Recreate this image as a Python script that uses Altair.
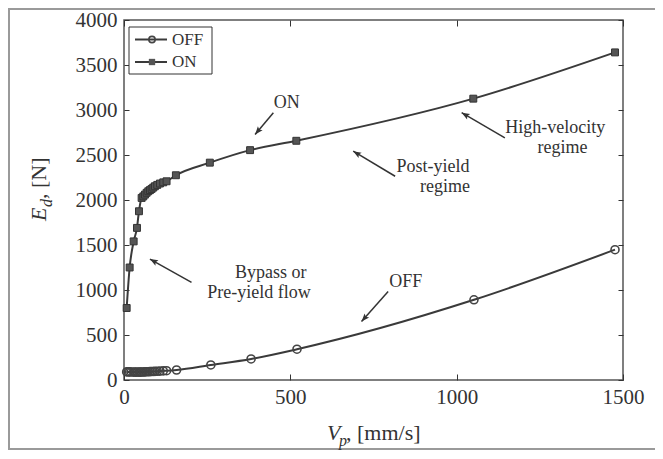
import math
import altair as alt
import pandas as pd

# ---------------- data ----------------
vp_on = [8, 17, 29, 39, 45, 53, 58, 63, 68, 73, 78, 83, 88, 93, 100, 108, 118, 128, 156, 258, 379, 518, 1050, 1476]
ed_on = [800, 1250, 1540, 1690, 1875, 2023, 2040, 2060, 2080, 2097, 2110, 2123, 2138, 2153, 2168, 2183, 2196, 2208,
         2275, 2415, 2554, 2658, 3126, 3640]

vp_off = [8, 13, 17, 22, 29, 34, 39, 45, 49, 53, 58, 63, 68, 73, 78, 83, 88, 93, 100, 108, 118, 128,
          158, 261, 382, 520, 1052, 1476]
ed_off = [90, 90, 90, 89, 88, 88, 88, 88, 88, 89, 89, 90, 91, 92, 93, 94, 95, 96, 97, 99, 101, 103,
          111, 167, 234, 342, 891, 1448]

x_ticks = [0, 500, 1000, 1500]
y_ticks = [0, 500, 1000, 1500, 2000, 2500, 3000, 3500, 4000]

# annotations (data coordinates)
note_text = ["ON", "Post-yield", "regime", "High-velocity", "regime", "Bypass or", "Pre-yield flow", "OFF"]
note_x = [489, 929, 965, 1296, 1318, 441, 406, 847]
note_y = [3081, 2370, 2148, 2797, 2574, 1185, 963, 1092]

arrow_tail_x = [449, 815, 1145, 203, 794]
arrow_tail_y = [2970, 2264, 2691, 1084, 983]
arrow_tip_x = [394, 689, 1015, 78, 714]
arrow_tip_y = [2728, 2542, 2970, 1344, 649]

W, H = 499, 360
XMAX, YMAX = 1500, 4000
FONT = "Liberation Serif"
INK = "#333333"

on_df = pd.DataFrame({"vp": vp_on, "ed": ed_on})
off_df = pd.DataFrame({"vp": vp_off, "ed": ed_off})
notes_df = pd.DataFrame({"t": note_text, "x": note_x, "y": note_y})


def angle_of(tx, ty, hx, hy):
    dx = (hx - tx) * W / XMAX
    dy = -(hy - ty) * H / YMAX
    return math.degrees(math.atan2(dx, -dy)) % 360


arrows_df = pd.DataFrame({
    "x": arrow_tail_x, "y": arrow_tail_y, "x2": arrow_tip_x, "y2": arrow_tip_y,
    "ang": [angle_of(a, b, c, d) for a, b, c, d in zip(arrow_tail_x, arrow_tail_y, arrow_tip_x, arrow_tip_y)],
})

xs = alt.Scale(domain=[0, XMAX], nice=False, zero=False)
ys = alt.Scale(domain=[0, YMAX], nice=False, zero=False)


def X(f, axis=None):
    return alt.X(f, type="quantitative", scale=xs, axis=axis, title=None)


def Y(f, axis=None):
    return alt.Y(f, type="quantitative", scale=ys, axis=axis, title=None)


ax_bottom = alt.Axis(orient="bottom", values=x_ticks, tickSize=6, offset=-6, domain=False, grid=False,
                     tickColor=INK, labelFont=FONT, labelFontSize=21, labelColor=INK, labelPadding=6,
                     format="d", labelFlush=False)
ax_left = alt.Axis(orient="left", values=y_ticks, tickSize=5, offset=-5, domain=False, grid=False,
                   tickColor=INK, labelFont=FONT, labelFontSize=21, labelColor=INK, labelPadding=7,
                   format="d")
ax_top = alt.Axis(orient="top", values=x_ticks, tickSize=6, offset=-6, domain=False, grid=False,
                  tickColor=INK, labels=False)
ax_right = alt.Axis(orient="right", values=y_ticks, tickSize=5, offset=-5, domain=False, grid=False,
                    tickColor=INK, labels=False)

# ON
on_line = alt.Chart(on_df).mark_line(color="#3a3a3a", strokeWidth=2, interpolate="monotone").encode(
    x=X("vp", ax_bottom), y=Y("ed", ax_left))
on_pts = alt.Chart(on_df).mark_point(shape="square", filled=True, size=48, color="#555555",
                                      stroke="#333333", strokeWidth=1, opacity=1).encode(
    x=X("vp", ax_top), y=Y("ed", ax_right))
# OFF
off_line = alt.Chart(off_df).mark_line(color="#3a3a3a", strokeWidth=2, interpolate="monotone").encode(
    x=X("vp"), y=Y("ed"))
off_pts = alt.Chart(off_df).mark_point(shape="circle", filled=False, size=64, color="#444444",
                                       strokeWidth=1.6, opacity=1).encode(
    x=X("vp"), y=Y("ed"))

# annotations
notes = alt.Chart(notes_df).mark_text(font=FONT, fontSize=18, color=INK, align="center",
                                      baseline="middle").encode(x=X("x"), y=Y("y"), text="t:N")
shafts = alt.Chart(arrows_df).mark_rule(color=INK, strokeWidth=1.5).encode(
    x=X("x"), y=Y("y"), x2="x2", y2="y2")
heads = alt.Chart(arrows_df).mark_point(shape="M0,0L0.38,1L0,0.8L-0.38,1Z", filled=True, size=260,
                                        color=INK, opacity=1).encode(
    x=X("x2"), y=Y("y2"), angle=alt.Angle("ang:Q", scale=None))

# legend (pixel positions within the plot area)
leg_box = alt.Chart(pd.DataFrame({"a": [0]})).mark_rect(fill="white", stroke=INK, strokeWidth=1).encode(
    x=alt.value(5), x2=alt.value(88), y=alt.value(7), y2=alt.value(54))
leg_df = pd.DataFrame({"t": ["OFF", "ON"], "yy": [19.5, 42]})
leg_lines = alt.Chart(leg_df).mark_rule(color="#3a3a3a", strokeWidth=2).encode(
    x=alt.value(11), x2=alt.value(43), y=alt.Y("yy:Q", scale=None, axis=None))
leg_off = alt.Chart(leg_df.iloc[[0]]).mark_point(shape="circle", filled=False, size=40, color="#444444",
                                                 strokeWidth=1.6, opacity=1).encode(
    x=alt.value(28), y=alt.Y("yy:Q", scale=None, axis=None))
leg_on = alt.Chart(leg_df.iloc[[1]]).mark_point(shape="square", filled=True, size=40, color="#555555",
                                                opacity=1).encode(
    x=alt.value(28), y=alt.Y("yy:Q", scale=None, axis=None))
leg_text = alt.Chart(leg_df).mark_text(font=FONT, fontSize=17, color=INK, align="left",
                                       baseline="middle").encode(
    x=alt.value(48), y=alt.Y("yy:Q", scale=None, axis=None), text="t:N")

# axis titles (composed so that the subscripts can be drawn)
one = pd.DataFrame({"a": [0]})
xt_V = alt.Chart(one).mark_text(text="V", font=FONT, fontStyle="italic", fontSize=22, color=INK,
                                align="left", baseline="alphabetic").encode(x=alt.value(203), y=alt.value(420))
xt_p = alt.Chart(one).mark_text(text="p", font=FONT, fontStyle="italic", fontSize=16, color=INK,
                                align="left", baseline="alphabetic").encode(x=alt.value(215), y=alt.value(426))
xt_r = alt.Chart(one).mark_text(text=", [mm/s]", font=FONT, fontSize=22, color=INK,
                                align="left", baseline="alphabetic").encode(x=alt.value(222), y=alt.value(420))
yt_E = alt.Chart(one).mark_text(text="E", font=FONT, fontStyle="italic", fontSize=22, color=INK, angle=270,
                                align="left", baseline="alphabetic").encode(x=alt.value(-78), y=alt.value(201))
yt_d = alt.Chart(one).mark_text(text="d", font=FONT, fontStyle="italic", fontSize=16, color=INK, angle=270,
                                align="left", baseline="alphabetic").encode(x=alt.value(-72), y=alt.value(187))
yt_r = alt.Chart(one).mark_text(text=", [N]", font=FONT, fontSize=22, color=INK, angle=270,
                                align="left", baseline="alphabetic").encode(x=alt.value(-78), y=alt.value(179))

# outer frame of the figure
frame = alt.Chart(one).mark_rect(fill=None, stroke="#9a9a9a", strokeWidth=2).encode(
    x=alt.value(-115), x2=alt.value(545), y=alt.value(-11), y2=alt.value(429))

chart = alt.layer(
    frame, off_line, on_line, off_pts, on_pts, shafts, heads, notes,
    leg_box, leg_lines, leg_off, leg_on, leg_text,
    xt_V, xt_p, xt_r, yt_E, yt_d, yt_r,
).resolve_axis(x="independent", y="independent").properties(
    width=W, height=H,
    autosize=alt.AutoSizeParams(type="none"),
    padding={"left": 116, "top": 12, "right": 32, "bottom": 71},
    background="white",
).configure_view(stroke="#555555", strokeWidth=1.5)

chart.save("out.html", embed_options={"renderer": "svg", "actions": False})
